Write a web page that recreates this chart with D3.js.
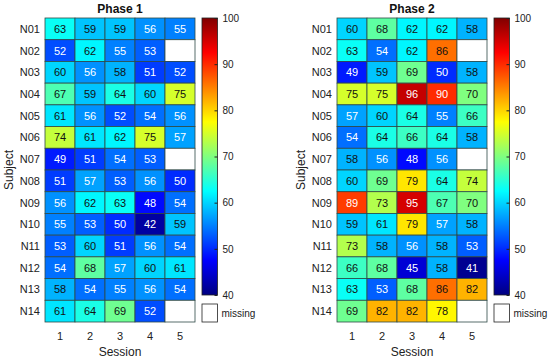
<!DOCTYPE html>
<html>
<head>
<meta charset="utf-8">
<script src="https://cdn.jsdelivr.net/npm/d3@7"></script>
<style>
body { margin: 0; background: #fff; }
text { font-family: "Liberation Sans", Arial, sans-serif; }
</style>
</head>
<body>
<div id="chart"></div>
<script>
var subjects = ["N01","N02","N03","N04","N05","N06","N07","N08","N09","N10","N11","N12","N13","N14"];
var sessions = [1, 2, 3, 4, 5];
var cbTicks = [40, 50, 60, 70, 80, 90, 100];

// null = missing
var phase1 = [
    [63, 59, 59, 56, 55],
    [52, 62, 55, 53, null],
    [60, 56, 58, 51, 52],
    [67, 59, 64, 60, 75],
    [61, 56, 52, 54, 56],
    [74, 61, 62, 75, 57],
    [49, 51, 54, 53, null],
    [51, 57, 53, 56, 50],
    [56, 62, 63, 48, 54],
    [55, 53, 50, 42, 59],
    [53, 60, 51, 56, 54],
    [54, 68, 57, 60, 61],
    [58, 54, 55, 56, 54],
    [61, 64, 69, 52, null]
];
var phase2 = [
    [60, 68, 62, 62, 58],
    [63, 54, 62, 86, null],
    [49, 59, 69, 50, 58],
    [75, 75, 96, 90, 70],
    [57, 60, 64, 55, 66],
    [54, 64, 66, 64, 58],
    [58, 56, 48, 56, null],
    [60, 69, 79, 64, 74],
    [89, 73, 95, 67, 70],
    [59, 61, 79, 57, 58],
    [73, 58, 56, 58, 53],
    [66, 68, 45, 58, 41],
    [63, 53, 68, 86, 82],
    [69, 82, 82, 78, null]
];

var width = 550, height = 358;

// matlab jet on 40..100
var jetStops = [40, 47.5, 62.5, 77.5, 92.5, 100];
var jetColors = ["#000080", "#0000ff", "#00ffff", "#ffff00", "#ff0000", "#800000"];
var color = d3.scaleLinear().domain(jetStops).range(jetColors).interpolate(d3.interpolateRgb).clamp(true);

var svg = d3.select("#chart").append("svg")
    .attr("width", width)
    .attr("height", height);

var defs = svg.append("defs");
var grad = defs.append("linearGradient")
    .attr("id", "jet")
    .attr("x1", "0").attr("y1", "1").attr("x2", "0").attr("y2", "0");
jetStops.forEach(function(s, i){
    grad.append("stop")
        .attr("offset", (s - 40) / 60)
        .attr("stop-color", jetColors[i]);
});

function panel(data, title, left){
    var top = 18, gw = 150, gh = 304;
    var g = svg.append("g").attr("transform", "translate(" + left + ",0)");

    var x = d3.scaleBand().domain(sessions).range([0, gw]);
    var y = d3.scaleBand().domain(subjects).range([top, top + gh]);

    var cells = [];
    data.forEach(function(row, i){
        row.forEach(function(v, j){
            cells.push({subj: subjects[i], sess: sessions[j], v: v});
        });
    });

    g.selectAll(".cell")
        .data(cells)
        .enter()
        .append("rect")
        .attr("class", "cell")
        .attr("x", function(d){ return x(d.sess); })
        .attr("y", function(d){ return y(d.subj); })
        .attr("width", x.bandwidth())
        .attr("height", y.bandwidth())
        .attr("fill", function(d){ return d.v == null ? "#fff" : color(d.v); })
        .attr("stroke", "#2f4a46")
        .attr("stroke-width", 0.8);

    g.selectAll(".val")
        .data(cells.filter(function(d){ return d.v != null; }))
        .enter()
        .append("text")
        .attr("class", "val")
        .attr("x", function(d){ return x(d.sess) + x.bandwidth() / 2; })
        .attr("y", function(d){ return y(d.subj) + y.bandwidth() / 2 + 4; })
        .attr("text-anchor", "middle")
        .attr("font-size", 11)
        .attr("fill", function(d){ return (d.v < 58 || d.v >= 88) ? "#fff" : "#111"; })
        .text(function(d){ return d.v; });

    // row labels
    g.selectAll(".rowlab")
        .data(subjects)
        .enter()
        .append("text")
        .attr("x", -5)
        .attr("y", function(d){ return y(d) + y.bandwidth() / 2 + 4; })
        .attr("text-anchor", "end")
        .attr("font-size", 11)
        .attr("fill", "#222")
        .text(function(d){ return d; });

    // column labels
    g.selectAll(".collab")
        .data(sessions)
        .enter()
        .append("text")
        .attr("x", function(d){ return x(d) + x.bandwidth() / 2; })
        .attr("y", 340)
        .attr("text-anchor", "middle")
        .attr("font-size", 11)
        .attr("fill", "#222")
        .text(function(d){ return d; });

    g.append("text")
        .attr("x", gw / 2)
        .attr("y", 13)
        .attr("text-anchor", "middle")
        .attr("font-size", 12)
        .attr("font-weight", "bold")
        .attr("fill", "#111")
        .text(title);

    g.append("text")
        .attr("x", gw / 2)
        .attr("y", 356)
        .attr("text-anchor", "middle")
        .attr("font-size", 12)
        .attr("fill", "#222")
        .text("Session");

    g.append("text")
        .attr("transform", "translate(-32," + (top + gh / 2) + ") rotate(-90)")
        .attr("text-anchor", "middle")
        .attr("font-size", 12)
        .attr("fill", "#222")
        .text("Subject");

    // colorbar
    var cbx = gw + 7, cbw = 15.5;
    var cy = d3.scaleLinear().domain([40, 100]).range([295, 18]);
    g.append("rect")
        .attr("x", cbx).attr("y", cy(100))
        .attr("width", cbw).attr("height", cy(40) - cy(100))
        .attr("fill", "url(#jet)")
        .attr("stroke", "#222").attr("stroke-width", 0.8);

    var cbAxis = d3.axisRight(cy).tickValues(cbTicks).tickSize(-3).tickPadding(5);
    var ax = g.append("g")
        .attr("transform", "translate(" + (cbx + cbw) + ",0)")
        .call(cbAxis);
    ax.select(".domain").remove();
    ax.selectAll("line").attr("stroke", "#222");
    ax.selectAll("text")
        .attr("font-size", 10)
        .attr("fill", "#222")
        .style("font-family", "Liberation Sans, Arial, sans-serif");

    // missing legend
    g.append("rect")
        .attr("x", cbx).attr("y", 304)
        .attr("width", cbw).attr("height", 18)
        .attr("fill", "#fff")
        .attr("stroke", "#222").attr("stroke-width", 0.8);
    g.append("text")
        .attr("x", cbx + cbw + 4)
        .attr("y", 317)
        .attr("font-size", 10)
        .attr("fill", "#222")
        .text("missing");
}

panel(phase1, "Phase 1", 45);
panel(phase2, "Phase 2", 337);
</script>
</body>
</html>
